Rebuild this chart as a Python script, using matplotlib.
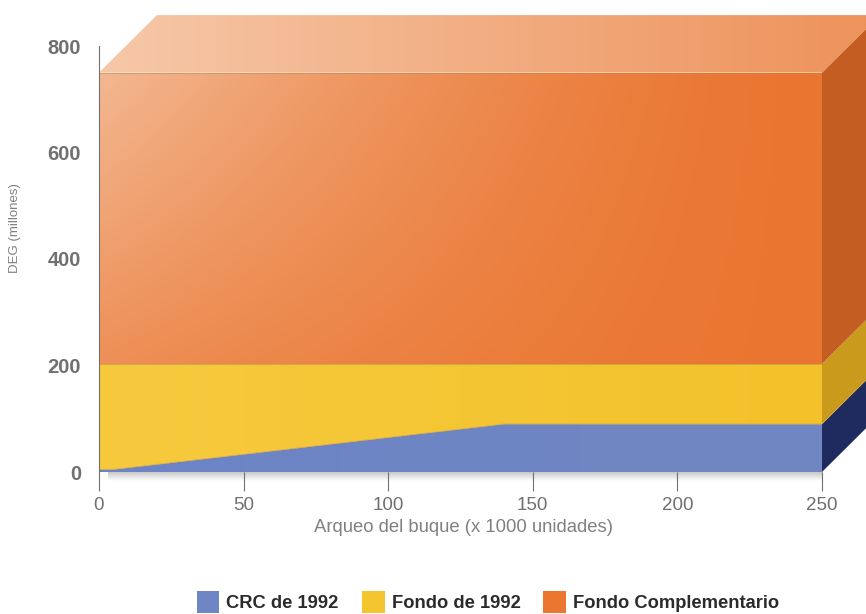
import numpy as np
import matplotlib.pyplot as plt
from matplotlib.patches import Polygon
from matplotlib.colors import to_rgb

plt.rcParams['font.family'] = ['Liberation Sans', 'DejaVu Sans']

# Arqueo (miles de unidades) y limites de indemnizacion (millones de DEG)
arqueo = [0, 5, 140, 250]
crc_1992 = [4.51, 4.51, 89.77, 89.77]
fondo_1992 = [203, 203, 203, 203]
fondo_compl = [750, 750, 750, 750]

labels = ['CRC de 1992', 'Fondo de 1992', 'Fondo Complementario']
colores = ['#6f86c4', '#f5c52f', '#ea7630']
lados = ['#1f2b5e', '#c99a1c', '#c45d22']

# profundidad de la caja en unidades de datos
DX, DY = 20, 108

# el eje llega hasta el borde superior y derecho para que quepa la caja
fig = plt.figure(figsize=(8.66, 6.14), dpi=100)
ax = fig.add_axes([99 / 866, (614 - 472) / 614, 767 / 866, 472 / 614])
ax.set_xlim(0, 250 * 767 / 723)
ax.set_ylim(0, 800 * 472 / 426)


def rellenar(poly, claro, oscuro, peso):
    # pinta un poligono con un degradado; peso(xn, yn) -> 1 claro, 0 oscuro
    xy = poly.get_xy()
    x0, x1 = xy[:, 0].min(), xy[:, 0].max()
    y0, y1 = xy[:, 1].min(), xy[:, 1].max()
    xn, yn = np.meshgrid(np.linspace(0, 1, 200), np.linspace(0, 1, 200))
    w = np.clip(peso(xn, yn), 0, 1)[..., None]
    c0, c1 = np.array(to_rgb(oscuro)), np.array(to_rgb(claro))
    img = c0 + w * (c1 - c0)
    im = ax.imshow(img, aspect='auto', origin='lower', extent=[x0, x1, y0, y1],
                   zorder=poly.get_zorder(), interpolation='bilinear')
    poly.set_facecolor('none')
    poly.set_edgecolor('none')
    ax.add_patch(poly)
    im.set_clip_path(poly)
    return im


# sombra bajo la caja
sombra = np.zeros((64, 2, 4))
sombra[..., 3] = np.linspace(0, 0.22, 64)[:, None]
ax.imshow(sombra, aspect='auto', origin='lower', extent=[3, 250, -16, 0],
          clip_on=False, zorder=0, interpolation='bilinear')

# caras frontales
x = np.array(arqueo)
base = np.zeros(len(x))
capas = [np.array(crc_1992), np.array(fondo_1992), np.array(fondo_compl)]
for i, top in enumerate(capas):
    verts = list(zip(x, base)) + list(zip(x[::-1], top[::-1]))
    poly = Polygon(verts, closed=True, zorder=2 + i)
    if i == 2:
        rellenar(poly, '#f3b892', '#ea7530',
                 lambda u, v: (1 - u) ** 1.5 * (0.4 + 0.6 * v))
    elif i == 1:
        rellenar(poly, '#f7ca3e', '#f3c22a', lambda u, v: 1 - u)
    else:
        rellenar(poly, '#6c84c6', '#7187c2', lambda u, v: 1 - u)
    ax.plot(x, top, color='#b08a50', lw=0.8, alpha=0.5, zorder=5)
    base = top

# caras laterales
xr = arqueo[-1]
b = 0
for top, col in zip(capas, lados):
    t = top[-1]
    verts = [(xr, b), (xr + DX, b + DY), (xr + DX, t + DY), (xr, t)]
    ax.add_patch(Polygon(verts, closed=True, facecolor=col, edgecolor='none',
                         zorder=6))
    b = t

# cara superior
tope = fondo_compl[-1]
verts = [(0, tope), (DX, tope + DY), (xr + DX, tope + DY), (xr, tope)]
sup = Polygon(verts, closed=True, zorder=6)
rellenar(sup, '#f6c8a9', '#ee925a', lambda u, v: 1 - u)

# ejes
gris = '#707070'
for s in ['top', 'right', 'bottom']:
    ax.spines[s].set_visible(False)
ax.spines['left'].set_color(gris)
ax.spines['left'].set_bounds(0, 800)
ax.spines['left'].set_zorder(10)
ax.set_xticks([0, 50, 100, 150, 200, 250])
ax.set_yticks([0, 200, 400, 600, 800])
ax.set_yticks([0], minor=True)
ax.tick_params(axis='x', length=14, color=gris, labelcolor=gris,
               labelsize=13.5, pad=4)
ax.tick_params(axis='y', which='major', length=0, labelcolor=gris,
               labelsize=14.5, pad=13)
ax.tick_params(axis='y', which='minor', length=14, color=gris)
for t in ax.get_yticklabels():
    t.set_fontweight('bold')

fig.text(464 / 866, 1 - 527 / 614, 'Arqueo del buque (x 1000 unidades)',
         ha='center', va='center', color='#808080', fontsize=13.3)
fig.text(15 / 866, 1 - 228 / 614, 'DEG (millones)', rotation=90,
         ha='center', va='center', color='#808080', fontsize=9.5)

# leyenda
handles = [plt.Rectangle((0, 0), 1, 1, facecolor=c) for c in colores]
fig.legend(handles, labels, ncol=3, frameon=False, loc='center',
           bbox_to_anchor=(488 / 866, 1 - 602 / 614),
           prop={'weight': 'bold', 'size': 13.2},
           handlelength=1.25, handleheight=1.5, handletextpad=0.38,
           columnspacing=1.25, labelcolor='#2b2b2b', borderpad=0)

fig.savefig('out.png', dpi=100)
